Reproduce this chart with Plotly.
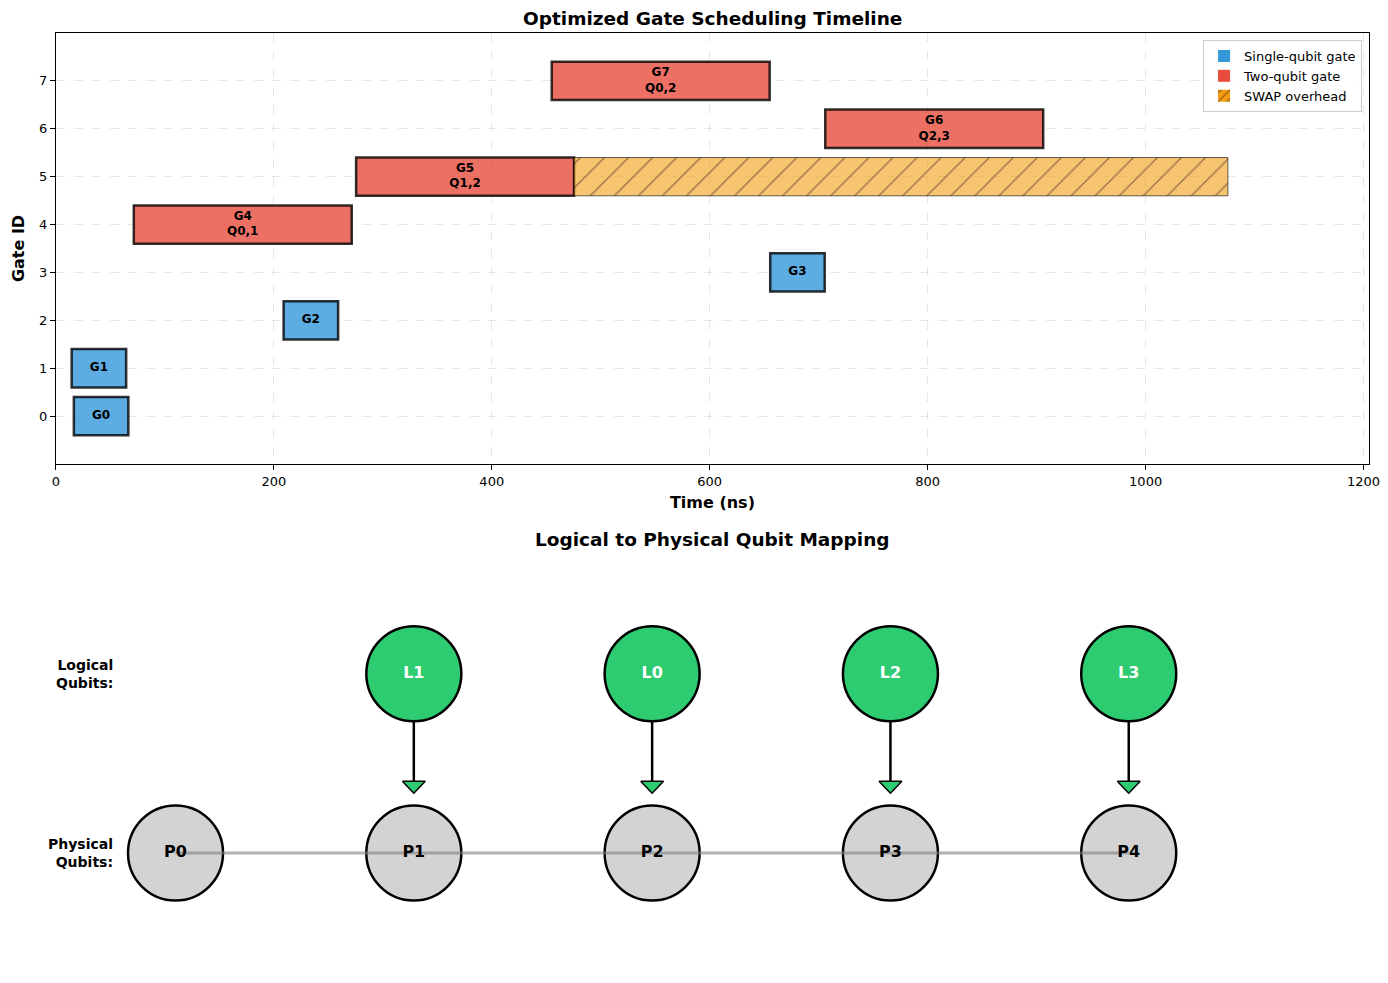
import plotly.graph_objects as go

# ---------------- data ----------------
gate_names = ["G0", "G1", "G2", "G3", "G4", "G5", "G6", "G7"]
gate_ids = [0, 1, 2, 3, 4, 5, 6, 7]
gate_types = ["single", "single", "single", "single", "two", "two", "two", "two"]
gate_starts = [16.5, 14.5, 209, 655.5, 71.5, 275.5, 706, 455]
gate_durations = [50, 50, 50, 50, 200, 200, 200, 200]
gate_qubits = ["", "", "", "", "Q0,1", "Q1,2", "Q2,3", "Q0,2"]

swap_gate_id = 5
swap_start = 475.5
swap_duration = 600

x_ticks = [0, 200, 400, 600, 800, 1000, 1200]
y_ticks = [0, 1, 2, 3, 4, 5, 6, 7]

physical_labels = ["P0", "P1", "P2", "P3", "P4"]
physical_pos = [0, 1, 2, 3, 4]
logical_labels = ["L1", "L0", "L2", "L3"]
logical_to_physical = [1, 2, 3, 4]

# ---------------- styles ----------------
FONT = "DejaVu Sans"
PAGE_MARGIN = 8          # browser default body margin
W, H = 1388 - 2 * PAGE_MARGIN, 983 - 2 * PAGE_MARGIN
BLUE = "rgba(52,152,219,0.8)"
RED = "rgba(231,76,60,0.8)"
ORANGE = "rgba(243,156,18,0.6)"
EDGE = "rgba(0,0,0,0.8)"

fig = go.Figure()

# ---------------- top: timeline ----------------
for gtype, color in [("single", BLUE), ("two", RED)]:
    idx = [i for i, t in enumerate(gate_types) if t == gtype]
    fig.add_trace(go.Bar(
        orientation="h",
        y=[gate_ids[i] for i in idx],
        x=[gate_durations[i] for i in idx],
        base=[gate_starts[i] for i in idx],
        width=0.8,
        marker=dict(color=color, line=dict(color=EDGE, width=2.5)),
        showlegend=False, hoverinfo="skip",
        xaxis="x", yaxis="y",
    ))

fig.add_trace(go.Bar(
    orientation="h",
    y=[swap_gate_id], x=[swap_duration], base=[swap_start],
    width=0.8,
    marker=dict(color=ORANGE, line=dict(color="rgba(0,0,0,0.6)", width=1),
                pattern=dict(shape="/", size=17, solidity=0.08,
                             fgcolor="rgba(30,20,10,0.9)", bgcolor=ORANGE,
                             fillmode="overlay")),
    showlegend=False, hoverinfo="skip",
    xaxis="x", yaxis="y",
))

# legend entries
fig.add_trace(go.Bar(orientation="h", x=[None], y=[None], name="Single-qubit gate",
                     marker=dict(color="#3498db", line=dict(width=0)), xaxis="x", yaxis="y"))
fig.add_trace(go.Bar(orientation="h", x=[None], y=[None], name="Two-qubit gate",
                     marker=dict(color="#e74c3c", line=dict(width=0)), xaxis="x", yaxis="y"))
fig.add_trace(go.Bar(orientation="h", x=[None], y=[None], name="SWAP overhead",
                     marker=dict(color="#f39c12", line=dict(width=0),
                                 pattern=dict(shape="/", size=8, solidity=0.15,
                                              fgcolor="black", bgcolor="#f39c12",
                                              fillmode="overlay")),
                     xaxis="x", yaxis="y"))

# gate labels
label_x = [s + d / 2 for s, d in zip(gate_starts, gate_durations)]
label_text = [
    f"<b>{n}<br>{q}</b>" if q else f"<b>{n}</b>" for n, q in zip(gate_names, gate_qubits)
]
fig.add_trace(go.Scatter(
    x=label_x, y=gate_ids, text=label_text, mode="text",
    textfont=dict(family=FONT, size=12, color="black"),
    showlegend=False, hoverinfo="skip", xaxis="x", yaxis="y",
))

# ---------------- bottom: mapping ----------------
R = 0.2
Y_LOG = 0.75
Y_PHYS = 0.0

fig.add_trace(go.Scatter(
    x=physical_pos, y=[Y_PHYS] * len(physical_pos), mode="markers",
    marker=dict(size=95, color="#d3d3d3", line=dict(color="black", width=2.5)),
    showlegend=False, hoverinfo="skip", xaxis="x2", yaxis="y2",
))
fig.add_trace(go.Scatter(
    x=[physical_pos[0], physical_pos[-1]], y=[Y_PHYS, Y_PHYS], mode="lines",
    line=dict(color="rgba(128,128,128,0.6)", width=3),
    showlegend=False, hoverinfo="skip", xaxis="x2", yaxis="y2",
))
fig.add_trace(go.Scatter(
    x=physical_pos, y=[Y_PHYS] * len(physical_pos), mode="text",
    text=[f"<b>{p}</b>" for p in physical_labels],
    textfont=dict(family=FONT, size=16, color="black"),
    showlegend=False, hoverinfo="skip", xaxis="x2", yaxis="y2",
))

# arrows
ax, ay = [], []
tx, ty = [], []
head_top = Y_PHYS + 0.3
head_tip = Y_PHYS + 0.25
hw = 0.048
for p in logical_to_physical:
    ax += [p, p, None]
    ay += [Y_LOG - R, head_top, None]
    tx += [p - hw, p + hw, p, p - hw, None]
    ty += [head_top, head_top, head_tip, head_top, None]
fig.add_trace(go.Scatter(
    x=ax, y=ay, mode="lines", line=dict(color="black", width=2.5),
    showlegend=False, hoverinfo="skip", xaxis="x2", yaxis="y2",
))
fig.add_trace(go.Scatter(
    x=tx, y=ty, mode="lines", fill="toself", fillcolor="#2ecc71",
    line=dict(color="black", width=1.5),
    showlegend=False, hoverinfo="skip", xaxis="x2", yaxis="y2",
))

fig.add_trace(go.Scatter(
    x=logical_to_physical, y=[Y_LOG] * len(logical_to_physical), mode="markers+text",
    marker=dict(size=95, color="#2ecc71", line=dict(color="black", width=2.5)),
    text=[f"<b>{l}</b>" for l in logical_labels],
    textposition="middle center",
    textfont=dict(family=FONT, size=16, color="white"),
    showlegend=False, hoverinfo="skip", xaxis="x2", yaxis="y2",
))

# ---------------- layout ----------------
def px_x(p):
    return (p - PAGE_MARGIN) / W


def px_y(p):
    return 1 - (p - PAGE_MARGIN) / H


grid = "rgba(176,176,176,0.3)"
ppu = 239.0  # pixels per unit in mapping panel
bx0, bx1 = 52, 1369
by0, by1 = 560, 960
phys_px_x, phys_px_y = 172, 853

# last tick label drawn as an annotation so it is not hidden at the div edge
last_tick_annotation = dict(
    text=str(x_ticks[-1]), x=x_ticks[-1], xref="x", y=px_y(481), yref="paper",
    showarrow=False, xanchor="center", yanchor="middle", font=dict(size=13),
)

fig.update_layout(
    width=W, height=H,
    margin=dict(l=0, r=0, t=0, b=0),
    paper_bgcolor="white", plot_bgcolor="white",
    barmode="overlay",
    font=dict(family=FONT, size=13, color="black"),
    xaxis=dict(
        domain=[px_x(52), px_x(1369)], range=[0, 1205],
        tickvals=x_ticks, ticks="outside", ticklen=5, tickcolor="black",
        tickfont=dict(size=13),
        showline=True, mirror=True, linecolor="black", linewidth=1,
        showgrid=True, gridcolor=grid, griddash="dash", gridwidth=1,
        zeroline=False, anchor="y",
        title=dict(text="<b>Time (ns)</b>", font=dict(size=16), standoff=9),
    ),
    yaxis=dict(
        domain=[px_y(464), px_y(33)], range=[-1, 8],
        tickvals=y_ticks, ticks="outside", ticklen=5, tickcolor="black",
        tickfont=dict(size=13),
        showline=True, mirror=True, linecolor="black", linewidth=1,
        showgrid=True, gridcolor=grid, griddash="dash", gridwidth=1,
        zeroline=False, anchor="x",
        title=dict(text="<b>Gate ID</b>", font=dict(size=16), standoff=10),
    ),
    xaxis2=dict(
        domain=[px_x(bx0), px_x(bx1)],
        range=[-(phys_px_x - bx0) / ppu, (bx1 - phys_px_x) / ppu],
        visible=False, anchor="y2",
    ),
    yaxis2=dict(
        domain=[px_y(by1), px_y(by0)],
        range=[-(by1 - phys_px_y) / ppu, (phys_px_y - by0) / ppu],
        visible=False, anchor="x2",
    ),
    legend=dict(
        x=px_x(1362), y=px_y(40), xanchor="right", yanchor="top",
        bgcolor="rgba(255,255,255,0.8)", bordercolor="#cccccc", borderwidth=1,
        font=dict(size=13), tracegroupgap=0,
    ),
    annotations=[
        dict(text="<b>Optimized Gate Scheduling Timeline</b>", x=0.5 * (px_x(52) + px_x(1369)),
             y=px_y(18), xref="paper", yref="paper", showarrow=False,
             font=dict(size=18.5), xanchor="center", yanchor="middle"),
        dict(text="<b>Logical to Physical Qubit Mapping</b>", x=0.5 * (px_x(52) + px_x(1369)),
             y=px_y(539), xref="paper", yref="paper", showarrow=False,
             font=dict(size=18.5), xanchor="center", yanchor="middle"),
        dict(text="<b>Logical<br>Qubits:</b>", x=-0.255, y=Y_LOG, xref="x2", yref="y2",
             showarrow=False, xanchor="right", yanchor="middle", align="right",
             font=dict(size=14)),
        dict(text="<b>Physical<br>Qubits:</b>", x=-0.255, y=Y_PHYS, xref="x2", yref="y2",
             showarrow=False, xanchor="right", yanchor="middle", align="right",
             font=dict(size=14)),
        last_tick_annotation,
    ],
)

fig.write_html("out.html")
